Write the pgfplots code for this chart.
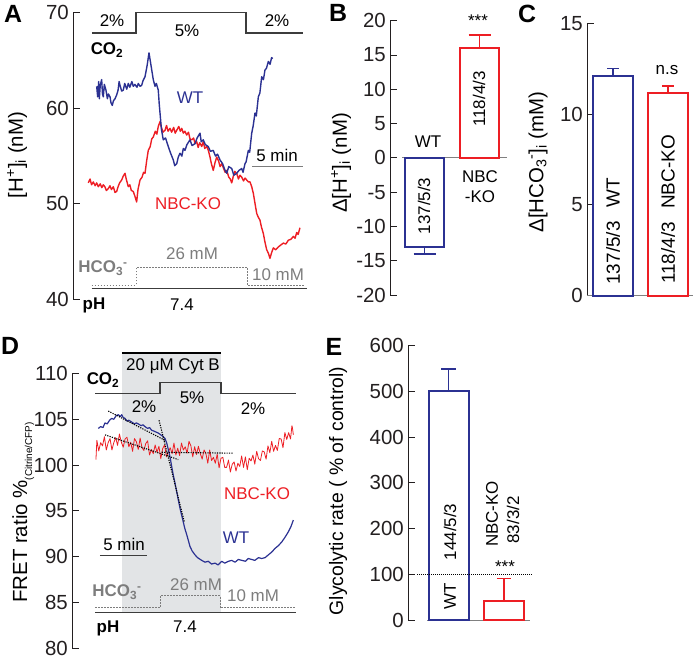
\documentclass[border=0pt]{standalone}
\usepackage{pgfplots}
\pgfplotsset{compat=1.18}
\usepackage{fontspec}
\setmainfont{Liberation Sans}
\definecolor{wtblue}{RGB}{43,49,146}
\definecolor{kored}{RGB}{237,30,36}
\definecolor{protgray}{RGB}{60,60,60}
\definecolor{hcogray}{RGB}{125,125,125}
\definecolor{shadegray}{RGB}{226,228,230}
\definecolor{axgray}{RGB}{35,31,32}
\newcommand{\fA}{\fontsize{17}{20}\selectfont}
\newcommand{\fC}{\fontsize{19}{22}\selectfont}
\newcommand{\fL}{\fontsize{20.5}{24}\selectfont}
\newcommand{\fP}{\fontsize{25}{28}\selectfont\bfseries}
\newcommand{\HCO}{\textbf{HCO\textsubscript{3}\textsuperscript{-}}}
\pgfplotsset{
  panel/.style={
    scale only axis, anchor=south west, clip=false,
    axis x line=none, axis y line*=left,
    axis line style={-, draw=axgray, line width=0.9bp},
    ytick pos=left, tick align=inside, major tick length=7bp,
    major tick style={draw=axgray, line width=0.9bp},
    yticklabel style={font=\fontsize{20.5}{24}\selectfont, text=axgray, inner sep=0pt, xshift=-4bp},
    /pgf/number format/assume math mode=true,
  },
  mybar/.style={ybar, bar width=#1, bar shift=0pt, fill=white, line width=2bp},
  trace/.style={line width=1.4bp, line join=round},
}
\begin{document}
\begin{tikzpicture}
\path[use as bounding box] (0,0) rectangle (693bp,661bp);

% ---------------- Panel A ----------------
\begin{axis}[panel, at={(73bp,361.5bp)}, width=232bp, height=286.8bp,
  xmin=-1.4706, xmax=21.2745, ymin=40, ymax=70, ytick={40,50,60,70}]
\addplot[protgray, line width=1.3bp] coordinates {(0.39,67.88) (4.71,67.88) (4.71,70) (15.49,70) (15.49,67.88) (21.08,67.88)};
\addplot[hcogray, line width=0.9bp, dash pattern=on 1.8bp off 1.2bp] coordinates {(0.36,41.52) (4.71,41.52) (4.71,43.37) (15.62,43.37) (15.62,41.52) (21.27,41.52)};
\addplot[protgray, line width=1.3bp] coordinates {(0.36,41.17) (21.44,41.17)};
\addplot[hcogray, line width=0.8bp] coordinates {(16.08,53.96) (21.08,53.96)};
\addplot[trace, kored] coordinates {
(0.03,52.2) (0.2,52.6) (0.35,52.0) (0.52,52.3) (0.7,51.9) (0.85,52.2) (1.01,51.8) (1.2,52.1) (1.35,51.7) (1.50,52.0) (1.65,51.8) (1.8,51.4) (1.99,51.6) (2.15,51.9) (2.3,51.5) (2.48,51.8) (2.65,51.2) (2.81,51.3) (2.95,51.8) (3.1,52.2) (3.30,52.5) (3.45,52.9) (3.63,53.2) (3.75,52.6) (3.95,51.8) (4.1,52.0) (4.25,51.4) (4.44,51.3) (4.6,50.8) (4.77,50.2) (4.9,51.5) (5.10,52.5) (5.3,52.8) (5.45,53.3) (5.59,53.2) (5.75,54.5) (5.91,55.6) (6.1,56.0) (6.25,56.8) (6.40,57.0) (6.6,57.6) (6.75,57.3) (6.89,58.1) (7.06,58.6) (7.2,58.0) (7.35,57.5) (7.55,57.7) (7.7,58.2) (7.85,57.6) (8.04,57.9) (8.2,57.5) (8.4,58.0) (8.55,57.4) (8.70,57.7) (8.9,58.1) (9.05,57.6) (9.19,57.9) (9.35,57.4) (9.5,57.6) (9.68,57.2) (9.85,57.5) (10.0,56.8) (10.17,56.7) (10.35,56.9) (10.5,56.3) (10.66,56.5) (10.8,55.9) (10.95,56.4) (11.15,56.0) (11.3,56.5) (11.45,55.8) (11.64,56.0) (11.8,55.6) (11.96,54.9) (12.1,54.2) (12.28,53.5) (12.45,54.3) (12.62,54.9) (12.8,54.5) (12.95,53.9) (13.11,54.2) (13.3,53.7) (13.45,53.3) (13.60,53.5) (13.8,52.8) (13.95,52.6) (14.09,52.2) (14.25,52.9) (14.4,53.4) (14.58,53.2) (14.75,52.6) (14.9,53.0) (15.07,52.8) (15.25,52.4) (15.4,52.7) (15.56,52.5) (15.72,52.3) (15.88,52.3) (16.05,51.8) (16.21,51.1) (16.35,50.2) (16.54,49.0) (16.7,48.6) (16.86,48.3) (17.0,47.6) (17.19,46.9) (17.35,46.0) (17.52,45.2) (17.7,44.8) (17.84,44.3) (18.0,44.9) (18.17,45.4) (18.4,45.2) (18.66,45.5) (18.9,45.7) (19.15,45.9) (19.4,45.8) (19.64,46.2) (19.9,46.3) (20.13,46.6) (20.3,46.4) (20.46,47.0) (20.6,46.8) (20.78,47.5)};
\addplot[trace, wtblue] coordinates {
(0.85,62.3) (0.95,61.2) (1.05,62.8) (1.11,61.0) (1.2,62.4) (1.34,63.0) (1.42,61.5) (1.50,61.2) (1.6,62.5) (1.76,61.9) (1.9,61.0) (2.0,61.5) (2.16,61.2) (2.25,60.6) (2.38,60.3) (2.5,60.8) (2.65,61.0) (2.81,61.4) (2.95,61.9) (3.05,62.8) (3.14,62.4) (3.3,61.8) (3.46,61.9) (3.6,62.6) (3.8,62.0) (3.95,62.6) (4.1,62.2) (4.3,62.8) (4.44,62.3) (4.6,62.5) (4.8,62.2) (4.93,62.6) (5.1,62.3) (5.26,62.4) (5.4,62.9) (5.59,63.3) (5.8,64.5) (5.98,65.8) (6.1,65.0) (6.25,64.0) (6.4,63.0) (6.57,62.3) (6.7,62.6) (6.89,61.9) (6.98,60.5) (7.06,59.5) (7.2,57.8) (7.38,56.7) (7.6,56.9) (7.87,56.0) (8.1,55.3) (8.36,54.6) (8.5,54.0) (8.70,54.2) (8.85,54.9) (9.02,55.3) (9.2,55.0) (9.35,55.8) (9.51,55.6) (9.7,56.2) (10.0,56.7) (10.2,56.1) (10.49,56.3) (10.7,56.9) (10.98,57.4) (11.1,56.5) (11.30,56.7) (11.5,56.2) (11.79,56.0) (12.0,55.5) (12.28,55.6) (12.5,55.0) (12.7,55.2) (12.94,54.6) (13.2,54.2) (13.4,53.6) (13.60,53.2) (13.8,53.9) (14.09,53.7) (14.3,53.0) (14.58,53.2) (14.8,53.5) (15.07,53.7) (15.2,53.3) (15.39,54.2) (15.5,54.4) (15.72,55.6) (15.85,55.4) (16.05,57.4) (16.2,58.2) (16.37,59.5) (16.5,59.2) (16.70,61.2) (16.85,61.6) (17.03,63.3) (17.2,63.0) (17.35,64.0) (17.5,64.2) (17.68,64.9) (17.85,64.6) (18.0,65.3) (18.11,65.2)};
\end{axis}

% ---------------- Panel B ----------------
\begin{axis}[panel, at={(390bp,366bp)}, width=120bp, height=274.3bp,
  xmin=0.3727, xmax=2.5545, ymin=-20, ymax=20, ytick={-20,-15,...,20}]
\addplot[gray, line width=1bp] coordinates {(0.591,0) (2.5,0)};
\addplot[mybar=39bp, draw=wtblue] coordinates {(1,-13)};
\addplot[wtblue, line width=1.4bp] coordinates {(1,-13) (1,-14)};
\addplot[wtblue, line width=1.4bp] coordinates {(0.8,-14) (1.2,-14)};
\addplot[mybar=39bp, draw=kored] coordinates {(2,16)};
\addplot[kored, line width=1.4bp] coordinates {(2,16) (2,17.9)};
\addplot[kored, line width=1.4bp] coordinates {(1.8,17.9) (2.2,17.9)};
\end{axis}

% ---------------- Panel C ----------------
\begin{axis}[panel, at={(587bp,365.3bp)}, width=106bp, height=272.4bp,
  xmin=0.5273, xmax=2.4545, ymin=0, ymax=15, ytick={0,5,10,15}]
\addplot[gray, line width=1bp] coordinates {(0.5273,0) (2.4545,0)};
\addplot[mybar=40bp, draw=wtblue] coordinates {(1,12.1)};
\addplot[wtblue, line width=1.4bp] coordinates {(1,12.1) (1,12.52)};
\addplot[wtblue, line width=1.4bp] coordinates {(0.891,12.52) (1.109,12.52)};
\addplot[mybar=40bp, draw=kored] coordinates {(2,11.18)};
\addplot[kored, line width=1.4bp] coordinates {(2,11.18) (2,11.55)};
\addplot[kored, line width=1.4bp] coordinates {(1.891,11.55) (2.109,11.55)};
\end{axis}

% ---------------- Panel D ----------------
\begin{axis}[panel, at={(72bp,12.7bp)}, width=228bp, height=274.8bp,
  xmin=-2.4468, xmax=21.8085, ymin=80, ymax=110, ytick={80,85,...,110}]
\fill[shadegray] (axis cs:2.87,83.89) rectangle (axis cs:13.40,112.24);
\addplot[black, line width=2.2bp] coordinates {(2.87,112.24) (13.40,112.24)};
\addplot[protgray, line width=1.3bp] coordinates {(0,107.84) (6.91,107.84) (6.91,109.0) (13.40,109.0) (13.40,107.84) (21.38,107.84)};
\addplot[hcogray, line width=0.9bp, dash pattern=on 1.8bp off 1.2bp] coordinates {(0,84.43) (6.91,84.43) (6.91,85.74) (13.3,85.74) (13.3,84.43) (21.38,84.43)};
\addplot[protgray, line width=1.3bp] coordinates {(0,83.89) (21.38,83.89)};
\addplot[protgray, line width=0.8bp] coordinates {(0.53,90.19) (5.53,90.19)};
\addplot[line width=0.8bp, kored, line join=round] coordinates {
(0.1,100.6) (0.2,102.7) (0.4,101.55) (0.6,102.45) (0.8,102.1) (1.0,103.1) (1.2,101.65) (1.4,102.45) (1.6,102.9) (1.8,101.65) (2.0,102.45) (2.2,103.0) (2.4,102.15) (2.6,103.4) (2.8,102.5) (3.0,101.95) (3.2,102.85) (3.4,103.05) (3.6,102.0) (3.8,102.5) (4.0,101.5) (4.2,102.9) (4.4,102.55) (4.6,101.7) (4.8,102.95) (5.0,101.9) (5.2,101.6) (5.4,102.35) (5.6,102.65) (5.8,101.1) (6.0,101.7) (6.2,101.25) (6.4,102.2) (6.6,101.4) (6.8,102.05) (7.0,100.7) (7.2,101.8) (7.4,102.2) (7.6,100.9) (7.8,101.4) (8.0,101.9) (8.2,101.25) (8.4,102.4) (8.6,101.1) (8.8,101.85) (9.0,101.05) (9.2,102.4) (9.4,101.65) (9.6,102.0) (9.8,101.3) (10.0,102.6) (10.2,102.1) (10.4,100.9) (10.6,102.0) (10.8,101.15) (11.0,102.05) (11.2,101.25) (11.4,100.65) (11.6,101.65) (11.8,101.25) (12.0,100.2) (12.2,101.65) (12.4,100.5) (12.6,100.85) (12.8,100.2) (13.0,101.2) (13.2,99.7) (13.4,100.75) (13.6,100.85) (13.8,99.75) (14.0,99.75) (14.2,100.55) (14.4,99.25) (14.6,100.1) (14.8,100.35) (15.0,99.35) (15.2,100.2) (15.4,99.85) (15.6,101.0) (15.8,99.75) (16.0,100.9) (16.2,99.5) (16.4,100.75) (16.6,100.45) (16.8,101.1) (17.0,100.1) (17.2,101.5) (17.4,100.7) (17.6,100.5) (17.8,101.55) (18.0,101.45) (18.2,100.65) (18.4,102.1) (18.6,101.35) (18.8,102.6) (19.0,101.5) (19.2,102.15) (19.4,101.6) (19.6,102.9) (19.8,102.85) (20.0,101.9) (20.2,103.55) (20.4,102.8) (20.6,103.55) (20.8,102.85) (20.95,104.3) (21.0,104.1) (21.1,103.3)};
\addplot[line width=1.2bp, line join=round, wtblue] coordinates {
(0.35,104.0) (0.6,104.2) (0.85,104.1) (1.06,104.6) (1.3,104.5) (1.55,104.9) (1.78,105.1) (2.0,105.0) (2.25,105.4) (2.48,105.5) (2.7,105.3) (2.84,105.5) (3.0,105.2) (3.19,105.1) (3.4,104.8) (3.6,104.9) (3.9,104.7) (4.2,104.5) (4.4,104.6) (4.61,104.5) (4.9,104.3) (5.1,104.4) (5.32,104.2) (5.6,104.0) (5.8,104.1) (6.03,103.8) (6.3,103.7) (6.5,103.6) (6.73,103.5) (7.0,103.3) (7.27,103.1) (7.45,102.9) (7.63,102.4) (7.8,101.7) (7.98,100.9) (8.15,99.9) (8.33,98.9) (8.5,98.1) (8.69,97.1) (8.86,96.2) (9.04,95.3) (9.2,94.6) (9.39,93.8) (9.55,93.1) (9.76,92.4) (9.95,91.7) (10.11,91.1) (10.35,90.6) (10.64,90.2) (10.9,89.9) (11.35,89.6) (11.7,89.4) (12.05,89.5) (12.4,89.2) (12.77,89.3) (13.1,89.1) (13.48,89.5) (13.8,89.3) (14.2,89.5) (14.54,89.6) (14.9,89.4) (15.25,89.7) (15.61,89.6) (16.0,89.5) (16.3,89.8) (16.67,89.7) (17.0,89.6) (17.4,89.9) (17.73,89.8) (18.1,89.9) (18.44,90.2) (18.8,90.5) (19.15,90.9) (19.5,91.2) (19.86,91.6) (20.2,92.1) (20.56,92.7) (20.85,93.3) (21.10,94.0)};
\addplot[black, line width=1.1bp, dash pattern=on 1.2bp off 1.2bp] coordinates {(1.41,105.9) (7.45,102.7)};
\addplot[black, line width=1.1bp, dash pattern=on 1.2bp off 1.2bp] coordinates {(6.81,104.9) (9.50,93.8)};
\addplot[black, line width=1.1bp, dash pattern=on 1.2bp off 1.2bp] coordinates {(1.06,103.3) (8.86,100.6)};
\addplot[black, line width=1.1bp, dash pattern=on 1.2bp off 1.2bp] coordinates {(7.10,101.4) (14.71,101.3)};
\end{axis}

% ---------------- Panel E ----------------
\begin{axis}[panel, at={(408bp,41bp)}, width=127bp, height=274.3bp,
  xmin=0.2703, xmax=2.5586, ymin=0, ymax=600, ytick={0,100,...,600}]
\addplot[gray, line width=1bp] coordinates {(0.6126,0) (2.4685,0)};
\addplot[mybar=40bp, draw=wtblue] coordinates {(1,500)};
\addplot[wtblue, line width=1.4bp] coordinates {(1,500) (1,549)};
\addplot[wtblue, line width=1.4bp] coordinates {(0.865,549) (1.135,549)};
\addplot[mybar=40bp, draw=kored] coordinates {(2,41.6)};
\addplot[kored, line width=1.4bp] coordinates {(2,41.6) (2,91)};
\addplot[kored, line width=1.4bp] coordinates {(1.865,91) (2.135,91)};
\addplot[black, line width=0.8bp, dash pattern=on 1bp off 1bp] coordinates {(0.4324,100) (2.5045,100)};
\end{axis}

% ---------------- Texts ----------------
\begin{scope}[x=1bp, y=-1bp, shift={(0bp,661bp)}, every node/.style={inner sep=0pt}]
% panel letters
\node[font=\fP] at (13,14) {A};
\node[font=\fP] at (338,13) {B};
\node[font=\fP] at (527,14) {C};
\node[font=\fP] at (10,346) {D};
\node[font=\fP] at (334,347) {E};
% y labels
\node[font=\fL, rotate=90] at (17,155) {[H\textsuperscript{+}]\textsubscript{i} (nM)};
\node[font=\fL, rotate=90] at (341,163) {Δ[H\textsuperscript{+}]\textsubscript{i} (nM)};
\node[font=\fL, rotate=90] at (538,162) {Δ[HCO\textsubscript{3}\textsuperscript{-}]\textsubscript{i} (mM)};
\node[font=\fL, rotate=90, anchor=base west] at (27,603) {FRET ratio \%\raisebox{-5bp}{\fontsize{10}{12}\selectfont(Citrine/CFP)}};
\node[font=\fontsize{19.5}{23}\selectfont, rotate=90] at (338,491) {Glycolytic rate ( \% of control)};
% panel A annotations
\node[font=\fA] at (112,21) {2\%};
\node[font=\fA] at (187,31) {5\%};
\node[font=\fA] at (277,21) {2\%};
\node[font=\fA] at (107,50) {\textbf{CO\textsubscript{2}}};
\node[font=\fA, text=wtblue] at (190,98) {WT};
\node[font=\fA, text=kored] at (188,204) {NBC-KO};
\node[font=\fA] at (277,155) {5 min};
\node[font=\fA, text=hcogray] at (192,254) {26 mM};
\node[font=\fA, text=hcogray] at (103,268) {\HCO};
\node[font=\fA, text=hcogray] at (278,275) {10 mM};
\node[font=\fA] at (94,305) {\textbf{pH}};
\node[font=\fA] at (182,305) {7.4};
% panel B annotations
\node[font=\fA] at (478,21) {***};
\node[font=\fA] at (428,142) {WT};
\node[font=\fA] at (480,177) {NBC};
\node[font=\fA] at (480,197) {-KO};
\node[font=\fA, rotate=90] at (424,206) {137/5/3};
\node[font=\fA, rotate=90] at (479,99) {118/4/3};
% panel C annotations
\node[font=\fA] at (667,70) {n.s};
\node[font=\fC, rotate=90] at (613,253) {137/5/3};
\node[font=\fC, rotate=90] at (613,193) {WT};
\node[font=\fC, rotate=90] at (668,253) {118/4/3};
\node[font=\fC, rotate=90] at (668,172) {NBC-KO};
% panel D annotations
\node[font=\fA] at (173,366) {20 μM Cyt B};
\node[font=\fA] at (103,380) {\textbf{CO\textsubscript{2}}};
\node[font=\fA] at (144,407) {2\%};
\node[font=\fA] at (192,398) {5\%};
\node[font=\fA] at (253,409) {2\%};
\node[font=\fA, text=kored] at (257,494) {NBC-KO};
\node[font=\fA, text=wtblue] at (236,538) {WT};
\node[font=\fA] at (124,544) {5 min};
\node[font=\fA, text=hcogray] at (117,592) {\HCO};
\node[font=\fA, text=hcogray] at (196,585) {26 mM};
\node[font=\fA, text=hcogray] at (253,596) {10 mM};
\node[font=\fA] at (108,628) {\textbf{pH}};
\node[font=\fA] at (185,627) {7.4};
% panel E annotations
\node[font=\fA] at (505,567) {***};
\node[font=\fA, rotate=90] at (492,514) {NBC-KO};
\node[font=\fA, rotate=90] at (513,520) {83/3/2};
\node[font=\fA, rotate=90] at (450,596) {WT};
\node[font=\fA, rotate=90] at (450,532) {144/5/3};
\end{scope}
\end{tikzpicture}
\end{document}
